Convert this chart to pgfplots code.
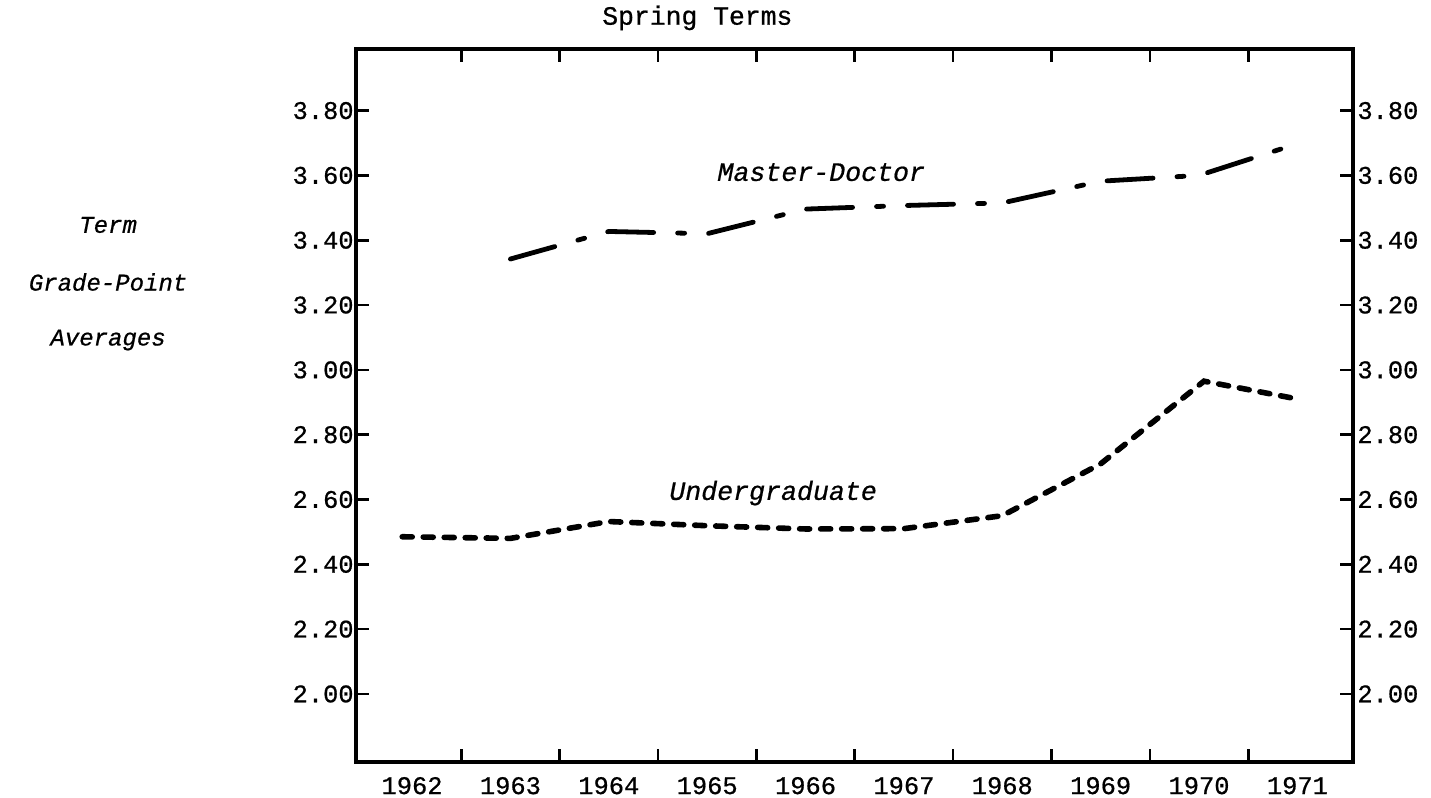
\documentclass[border=0pt]{standalone}
\usepackage{fontspec}
\setmainfont{Liberation Mono}[FakeBold=0.7]
\usepackage{pgfplots}
\pgfplotsset{compat=1.18}
\begin{document}
\begin{tikzpicture}
\begin{axis}[
  name=ax,
  scale only axis,
  width=498.5pt, height=356.5pt,
  xmin=1961.43, xmax=1971.565,
  ymin=1.79, ymax=3.99,
  axis line style={line width=1.6pt},
  tick align=inside,
  xtick={1962,1963,1964,1965,1966,1967,1968,1969,1970,1971},
  xticklabels={1962,1963,1964,1965,1966,1967,1968,1969,1970,1971},
  minor xtick={1962.5,1963.5,1964.5,1965.5,1966.5,1967.5,1968.5,1969.5,1970.5},
  ytick={2.0,2.2,2.4,2.6,2.8,3.0,3.2,3.4,3.6,3.8},
  yticklabels={2.00,2.20,2.40,2.60,2.80,3.00,3.20,3.40,3.60,3.80},
  minor ytick={2.0,2.2,2.4,2.6,2.8,3.0,3.2,3.4,3.6,3.8},
  major tick length=0pt,
  minor tick length=6.5pt,
  every minor tick/.style={line width=1.3pt, black},
  ticklabel style={font=\fontsize{12.7}{14}\selectfont},
  yticklabel style={inner xsep=1pt},
  xticklabel style={yshift=-4pt},
  clip=false,
]
\addplot[black, line width=2.4pt, line cap=round, dash pattern=on 23pt off 12pt on 3.5pt off 12pt] coordinates {
  (1963,3.342) (1964,3.427) (1965,3.420) (1966,3.496) (1967,3.507)
  (1968,3.515) (1969,3.582) (1970,3.600) (1970.92,3.690)
};
\addplot[black, line width=2.8pt, line cap=round, dash pattern=on 5pt off 5.5pt] coordinates {
  (1961.9,2.485) (1963,2.480) (1964,2.532) (1965,2.519) (1966,2.509)
  (1967,2.510) (1968,2.550) (1969,2.710) (1970.05,2.965) (1971,2.910)
};
\node[font=\itshape\fontsize{13.3}{15}\selectfont] at (axis cs:1966.16,3.61) {Master-Doctor};
\node[font=\itshape\fontsize{13.3}{15}\selectfont] at (axis cs:1965.67,2.62) {Undergraduate};
\node[font=\fontsize{13.2}{15}\selectfont] at (axis cs:1964.9,4.086) {Spring Terms};
\node[font=\itshape\fontsize{12}{14}\selectfont] at (axis cs:1958.91,3.447) {Term};
\node[font=\itshape\fontsize{12}{14}\selectfont] at (axis cs:1958.91,3.271) {Grade-Point};
\node[font=\itshape\fontsize{12}{14}\selectfont] at (axis cs:1958.91,3.092) {Averages};
\end{axis}
\begin{axis}[
  scale only axis,
  width=498.5pt, height=356.5pt,
  xmin=1961.43, xmax=1971.565,
  ymin=1.79, ymax=3.99,
  hide x axis,
  axis y line*=right,
  y axis line style={draw=none},
  ytick={2.0,2.2,2.4,2.6,2.8,3.0,3.2,3.4,3.6,3.8},
  yticklabels={2.00,2.20,2.40,2.60,2.80,3.00,3.20,3.40,3.60,3.80},
  major tick length=0pt,
  ticklabel style={font=\fontsize{12.7}{14}\selectfont},
  yticklabel style={inner xsep=2pt},
]
\end{axis}
\pgfresetboundingbox
\path[use as bounding box] ([xshift=-178pt,yshift=-18pt]ax.south west) rectangle ([xshift=39pt,yshift=24.5pt]ax.north east);
\end{tikzpicture}
\end{document}
